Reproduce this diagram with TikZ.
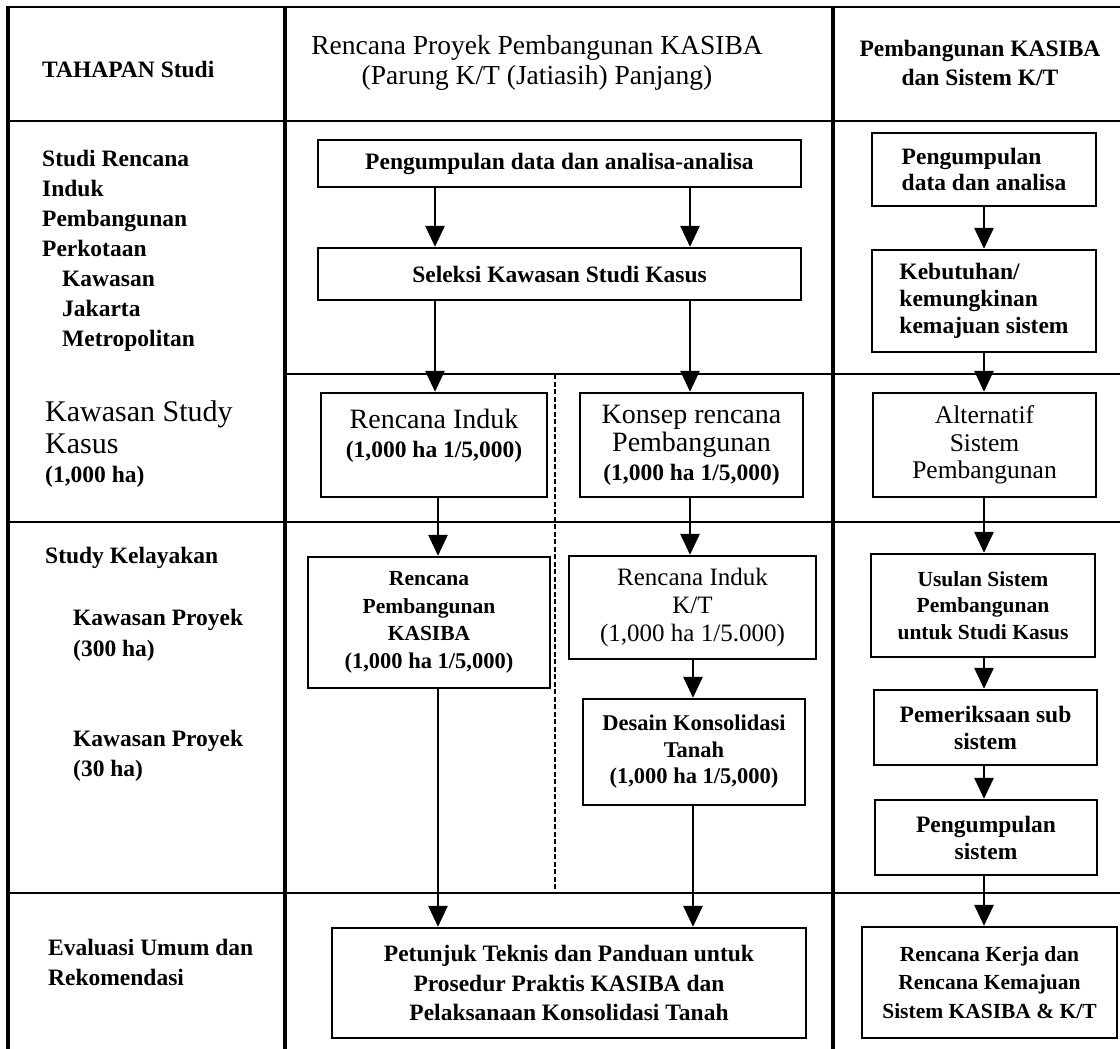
\documentclass[tikz,border=0pt]{standalone}
\usepackage{fontspec}
\setmainfont{Liberation Serif}
\usetikzlibrary{arrows.meta}

% type sizes used in the chart (1pt = 1 unit of the drawing)
\newcommand\txtb{\fontsize{23.5}{29.5}\selectfont\bfseries}
\newcommand\txtr{\fontsize{25.5}{27.5}\selectfont}
\newcommand\txtbig{\fontsize{28}{29}\selectfont\mdseries}
\newcommand\txthead{\fontsize{27.5}{30}\selectfont}

\begin{document}
\begin{tikzpicture}[x=1pt,y=-1pt,
  hrule/.style={line width=2.3pt},
  vrule/.style={line width=4pt},
  box/.style={draw, line width=2.3pt, inner sep=0pt, align=center, font=\txtb},
  lbl/.style={inner sep=0pt, anchor=north west, align=left, font=\txtb},
  flow/.style={line width=2.8pt, -{Triangle[width=19pt,length=21pt]}},
  phase/.style={line width=2.8pt, dash pattern=on 5pt off 2.5pt}]

\useasboundingbox (0,0) rectangle (1120,1049);
\fill[white] (0,0) rectangle (1120,1049);

% ---- table frame ----
\draw[hrule] (6,7) -- (1120,7);
\draw[vrule] (8,7) -- (8,1049);
\draw[vrule] (285,7) -- (285,1049);
\draw[vrule] (833,7) -- (833,1049);
\draw[hrule] (8,121) -- (1120,121);
\draw[hrule] (285,374) -- (1120,374);
\draw[hrule] (8,522) -- (1120,522);
\draw[hrule] (8,893) -- (1120,893);
\draw[phase] (555,374) -- (555,893);

% ---- column headings ----
\node[lbl] (hTahap) at (42,61) {TAHAPAN Studi};
\node[inner sep=0pt, align=center, font=\txthead] (hProyek) at (537,63)
  {Rencana Proyek Pembangunan KASIBA\\(Parung K/T (Jatiasih) Panjang)};
\node[inner sep=0pt, align=center, font=\txtb] (hSistem) at (980,63)
  {Pembangunan KASIBA\\dan Sistem K/T};

% ---- study stages ----
\node[lbl, font=\fontsize{23.5}{30}\selectfont\bfseries] (sInduk) at (42,150)
  {Studi Rencana\\Induk\\Pembangunan\\Perkotaan\\
   \hspace*{20pt}Kawasan\\\hspace*{20pt}Jakarta\\\hspace*{20pt}Metropolitan};
\node[lbl, font=\fontsize{30}{32}\selectfont] (sKasus) at (45,400) {Kawasan Study\\Kasus};
\node[lbl] (sKasusHa) at (45,466) {(1,000 ha)};
\node[lbl] (sLayak) at (45,547) {Study Kelayakan};
\node[lbl, font=\fontsize{23.5}{31}\selectfont\bfseries] (sP300) at (73,609) {Kawasan Proyek\\(300 ha)};
\node[lbl, font=\fontsize{23.5}{30}\selectfont\bfseries] (sP30) at (73,730) {Kawasan Proyek\\(30 ha)};
\node[lbl] (sEval) at (48,939) {Evaluasi Umum dan\\Rekomendasi};

% ---- KASIBA project column ----
\node[box, minimum width=483pt, minimum height=47pt] (kData) at (559.5,163.5)
  {Pengumpulan data dan analisa-analisa};
\node[box, minimum width=483pt, minimum height=52pt] (kSeleksi) at (559.5,274)
  {Seleksi Kawasan Studi Kasus};
\node[box, minimum width=226pt, minimum height=104pt] (kInduk) at (434,445)
  {{\txtbig Rencana Induk}\\(1,000 ha 1/5,000)\\[-6pt]\mbox{}};
\node[box, minimum width=223pt, minimum height=104pt, font=\fontsize{23.5}{28.5}\selectfont\bfseries] (kKonsep) at (691.5,445)
  {{\txtbig Konsep rencana}\\{\txtbig Pembangunan}\\(1,000 ha 1/5,000)};
\node[box, minimum width=242pt, minimum height=131pt, font=\fontsize{21.5}{27.5}\selectfont\bfseries] (kRencana) at (429,622.5)
  {Rencana\\Pembangunan\\KASIBA\\{\fontsize{22.5}{27}\selectfont(1,000 ha 1/5,000)}};
\node[box, minimum width=247pt, minimum height=103pt, font=\fontsize{25}{28}\selectfont] (kIndukKT) at (692.5,607.5)
  {Rencana Induk\\K/T\\(1,000 ha 1/5.000)};
\node[box, minimum width=222pt, minimum height=106pt, font=\fontsize{22.5}{26.5}\selectfont\bfseries] (kDesain) at (694,752)
  {Desain Konsolidasi\\Tanah\\(1,000 ha 1/5,000)};
\node[box, minimum width=474pt, minimum height=110pt] (kPetunjuk) at (569,983)
  {Petunjuk Teknis dan Panduan untuk\\Prosedur Praktis KASIBA dan\\Pelaksanaan Konsolidasi Tanah};

% ---- system column ----
\node[box, align=left, minimum width=224pt, minimum height=73pt, font=\fontsize{23.5}{26.5}\selectfont\bfseries] (sData) at (984,169.5)
  {Pengumpulan\\data dan analisa};
\node[box, align=left, minimum width=224pt, minimum height=102pt, font=\fontsize{23.5}{27}\selectfont\bfseries] (sButuh) at (984,301)
  {Kebutuhan/\\kemungkinan\\kemajuan sistem};
\node[box, minimum width=223pt, minimum height=104pt, font=\txtr] (sAlt) at (984.5,445)
  {Alternatif\\Sistem\\Pembangunan};
\node[box, minimum width=224pt, minimum height=103pt, font=\fontsize{21.5}{26.5}\selectfont\bfseries] (sUsul) at (983,605.5)
  {Usulan Sistem\\Pembangunan\\untuk Studi Kasus};
\node[box, minimum width=223pt, minimum height=75pt, font=\fontsize{23.5}{27}\selectfont\bfseries] (sPeriksa) at (985.5,727.5)
  {Pemeriksaan sub\\sistem};
\node[box, minimum width=222pt, minimum height=75pt, font=\fontsize{23.5}{27}\selectfont\bfseries] (sKumpul) at (986,837.5)
  {Pengumpulan\\sistem};
\node[box, minimum width=255pt, minimum height=111pt, font=\fontsize{21.5}{28.5}\selectfont\bfseries] (sKerja) at (989.5,982.5)
  {Rencana Kerja dan\\Rencana Kemajuan\\Sistem KASIBA \& K/T};

% ---- arrow lanes ----
\coordinate (laneA) at (435,0);
\coordinate (laneB) at (438,0);
\coordinate (laneC) at (690,0);
\coordinate (laneD) at (693,0);
\coordinate (laneE) at (984,0);

% ---- connectors ----
\draw[flow] (kData.south -| laneA) -- (kSeleksi.north -| laneA);
\draw[flow] (kData.south -| laneC) -- (kSeleksi.north -| laneC);
\draw[flow] (kSeleksi.south -| laneA) -- (kInduk.north -| laneA);
\draw[flow] (kSeleksi.south -| laneC) -- (kKonsep.north -| laneC);
\draw[flow] (kInduk.south -| laneB) -- (kRencana.north -| laneB);
\draw[flow] (kKonsep.south -| laneC) -- (kIndukKT.north -| laneC);
\draw[flow] (kIndukKT.south -| laneD) -- (kDesain.north -| laneD);
\draw[flow] (kRencana.south -| laneB) -- (kPetunjuk.north -| laneB);
\draw[flow] (kDesain.south -| laneD) -- (kPetunjuk.north -| laneD);

\draw[flow] (sData.south -| laneE) -- (sButuh.north -| laneE);
\draw[flow] (sButuh.south -| laneE) -- (sAlt.north -| laneE);
\draw[flow] (sAlt.south -| laneE) -- (sUsul.north -| laneE);
\draw[flow] (sUsul.south -| laneE) -- (sPeriksa.north -| laneE);
\draw[flow] (sPeriksa.south -| laneE) -- (sKumpul.north -| laneE);
\draw[flow] (sKumpul.south -| laneE) -- (sKerja.north -| laneE);
\end{tikzpicture}
\end{document}
